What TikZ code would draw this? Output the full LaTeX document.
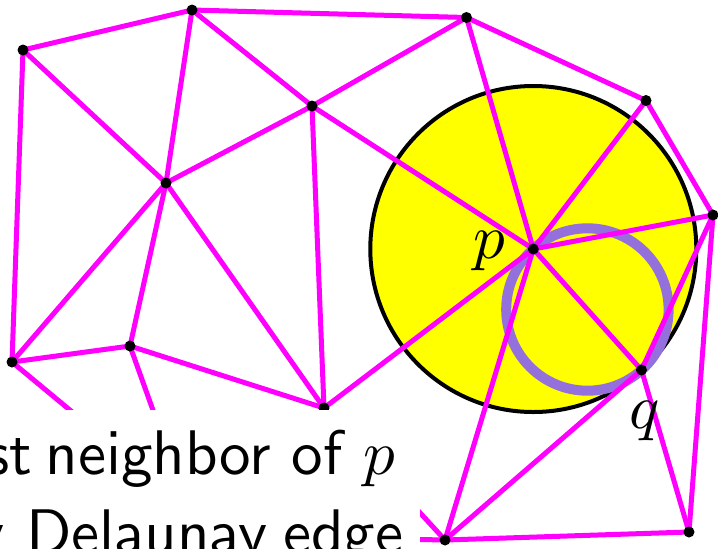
\documentclass[tikz,border=0pt]{standalone}
\usepackage{amsmath,amssymb}
\usepackage{xcolor}
\usepackage{tikz}
\usetikzlibrary{calc}
\DeclareFontShape{OML}{cmm}{m}{it}{<->cmmi10}{}
\DeclareFontFamily{OT1}{cmss}{\hyphenchar\font45}
\DeclareFontShape{OT1}{cmss}{m}{n}{<->cmss10}{}
\newcommand\slidefont{\fontencoding{OT1}\fontfamily{cmss}\fontseries{m}\fontshape{n}\fontsize{31.5}{40}\selectfont}
\definecolor{dtmagenta}{RGB}{255,0,255}
\definecolor{dtyellow}{RGB}{255,255,0}
\definecolor{ringpurple}{RGB}{147,112,219}

\begin{document}
\begin{tikzpicture}[x=0.5pt,y=-0.5pt,line join=round,
  dtedge/.style={dtmagenta,line width=2.5pt},
  site/.style={fill=black},
  bigtext/.style={inner sep=0pt,font=\slidefont}]
  \useasboundingbox (0,0) rectangle (718,548);
  \clip (0,0) rectangle (718,548);
  \coordinate (A) at (23,50);
  \coordinate (B) at (192,10);
  \coordinate (C) at (466.5,17.5);
  \coordinate (D) at (312,106);
  \coordinate (E) at (166,183);
  \coordinate (F) at (646,100.5);
  \coordinate (G) at (713,215);
  \coordinate (P) at (533.3,249);
  \coordinate (Q) at (641.5,370);
  \coordinate (H) at (12,362);
  \coordinate (I) at (130,346);
  \coordinate (J) at (324,408);
  \coordinate (K) at (445,540);
  \coordinate (L) at (689,532);
  \coordinate (S) at (188,508);
  \coordinate (T) at (250,536);
  \coordinate (M) at ($(P)!0.5!(Q)$);
  % empty circle of p through q
  \draw[fill=dtyellow,line width=2pt] (P) circle[radius=81.5pt];
  \draw[ringpurple,line width=5pt] (M) circle[radius=40.6pt];
  % triangulation
  \draw[dtedge] (A) -- (B);
  \draw[dtedge] (A) -- (E);
  \draw[dtedge] (A) -- (H);
  \draw[dtedge] (B) -- (C);
  \draw[dtedge] (B) -- (D);
  \draw[dtedge] (B) -- (E);
  \draw[dtedge] (C) -- (D);
  \draw[dtedge] (C) -- (F);
  \draw[dtedge] (C) -- (P);
  \draw[dtedge] (D) -- (E);
  \draw[dtedge] (D) -- (J);
  \draw[dtedge] (D) -- (P);
  \draw[dtedge] (E) -- (H);
  \draw[dtedge] (E) -- (I);
  \draw[dtedge] (E) -- (J);
  \draw[dtedge] (F) -- (G);
  \draw[dtedge] (F) -- (P);
  \draw[dtedge] (G) -- (P);
  \draw[dtedge] (G) -- (Q);
  \draw[dtedge] (G) -- (L);
  \draw[dtedge] (P) -- (Q);
  \draw[dtedge] (P) -- (J);
  \draw[dtedge] (P) -- (K);
  \draw[dtedge] (Q) -- (K);
  \draw[dtedge] (Q) -- (L);
  \draw[dtedge] (K) -- (L);
  \draw[dtedge] (H) -- (I);
  \draw[dtedge] (I) -- (J);
  \draw[dtedge] (H) -- (S);
  \draw[dtedge] (I) -- (S);
  \draw[dtedge] (J) -- (K);
  \draw[dtedge] (K) -- (T);
  \fill[site] (A) circle (2.75pt);
  \fill[site] (B) circle (2.75pt);
  \fill[site] (C) circle (2.75pt);
  \fill[site] (D) circle (2.75pt);
  \fill[site] (E) circle (2.75pt);
  \fill[site] (F) circle (2.75pt);
  \fill[site] (G) circle (2.75pt);
  \fill[site] (P) circle (2.75pt);
  \fill[site] (Q) circle (2.75pt);
  \fill[site] (H) circle (2.75pt);
  \fill[site] (I) circle (2.75pt);
  \fill[site] (J) circle (2.75pt);
  \fill[site] (K) circle (2.75pt);
  \fill[site] (L) circle (2.75pt);
  \node[bigtext,anchor=base] (plab) at (489,258) {$p$};
  \node[bigtext,anchor=base] (qlab) at (645,428) {$q$};
  % caption box
  \fill[white] (-20,410) rectangle (420,600);
  \node[bigtext,anchor=base east] (line1) at (396,474) {st\hspace{7pt}neighbor of $p$};
  \node[bigtext,anchor=base east] (line2) at (404,553) {y\hspace{10.5pt}Delaunay\hspace{8pt}edge};
\end{tikzpicture}
\end{document}
